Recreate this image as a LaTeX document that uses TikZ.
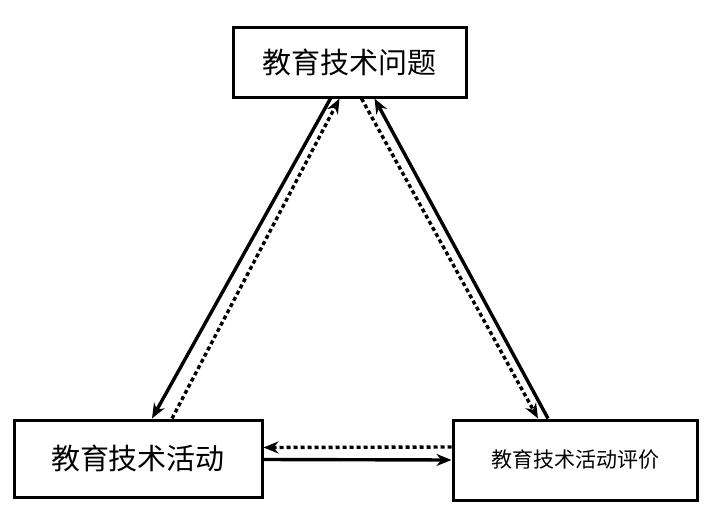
\documentclass[tikz,border=0pt]{standalone}
\usepackage{fontspec}
\newfontfamily\cjk{Noto Sans CJK SC}
\usetikzlibrary{arrows.meta}

\begin{document}
\begin{tikzpicture}
[x=1pt,y=-1pt,
box/.style      = {rectangle, draw, line width=3pt, inner sep=0pt, font=\cjk},
flow/.style     = {draw, line width=3.4pt, -{Stealth[length=15pt,width=12pt]}},
feedback/.style = {flow, dash pattern=on 4pt off 3pt}
]
\useasboundingbox (0,0) rectangle (724,522);

\node [box, minimum width=233pt, minimum height=70pt, font=\cjk\fontsize{29}{32}\selectfont] (problem) at (349.5,62) {教育技术问题};
\node [box, minimum width=248pt, minimum height=77pt, font=\cjk\fontsize{29}{32}\selectfont] (activity) at (138,458.5) {教育技术活动};
\node [box, minimum width=244pt, minimum height=80pt, font=\cjk\fontsize{21}{24}\selectfont] (evaluation) at (575,460) {教育技术活动评价};

% left side
\path [flow] ([xshift=-19pt]problem.south) -- ([xshift=14pt]activity.north);
\path [feedback] ([xshift=34pt]activity.north) -- ([xshift=-10pt]problem.south);
% right side
\path [flow] ([xshift=-27pt]evaluation.north) -- ([xshift=25pt]problem.south);
\path [feedback] ([xshift=12pt]problem.south) -- ([xshift=-37pt]evaluation.north);
% bottom
\path [feedback] ([yshift=13pt]evaluation.west) -- ([yshift=11pt]activity.east);
\path [flow] ([yshift=-1pt]activity.east) -- ([yshift=0pt]evaluation.west);

\end{tikzpicture}
\end{document}
